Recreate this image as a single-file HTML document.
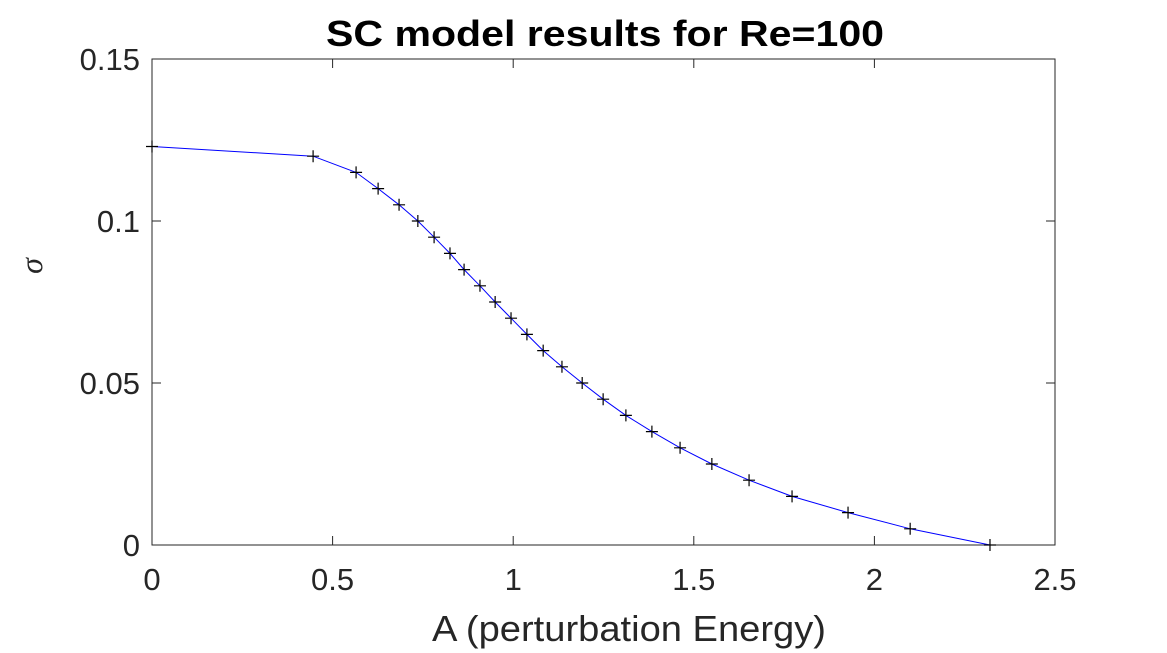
<!DOCTYPE html>
<html><head><meta charset="utf-8"><style>
html,body{margin:0;padding:0;background:#fff;}
svg{display:block;font-family:"Liberation Sans",sans-serif;}
</style></head><body>
<svg id="chart" width="1167" height="653">
<rect x="0" y="0" width="1167" height="653" fill="#fff"/>
<text x="605" y="46" text-anchor="middle" font-size="36" font-weight="bold" fill="#000" textLength="558" lengthAdjust="spacingAndGlyphs">SC model results for Re=100</text>
<g id="axes"></g>
<g id="series"></g>
<text x="629" y="641" text-anchor="middle" font-size="36" fill="#262626" textLength="394" lengthAdjust="spacingAndGlyphs">A (perturbation Energy)</text>
<text x="0" y="0" transform="translate(42,266) rotate(-90)" text-anchor="middle" font-size="32" font-style="italic" font-family="Liberation Serif,serif" fill="#262626">σ</text>
</svg>
<script>
const xValues=[0,0.446,0.565,0.626,0.684,0.736,0.781,0.825,0.864,0.908,0.950,0.994,1.038,1.083,1.135,1.191,1.249,1.312,1.384,1.462,1.550,1.653,1.772,1.927,2.099,2.320];
const yValues=[0.123,0.12,0.115,0.11,0.105,0.1,0.095,0.09,0.085,0.08,0.075,0.07,0.065,0.06,0.055,0.05,0.045,0.04,0.035,0.03,0.025,0.02,0.015,0.01,0.005,0];
const xTicks=[0,0.5,1,1.5,2,2.5];
const xTickLabels=["0","0.5","1","1.5","2","2.5"];
const yTicks=[0,0.05,0.1,0.15];
const yTickLabels=["0","0.05","0.1","0.15"];
const L=152,R=1055,T=59,B=545,xMax=2.5,yMax=0.15;
const sx=v=>L+(R-L)*v/xMax, sy=v=>B-(B-T)*v/yMax;
const NS="http://www.w3.org/2000/svg";
const ax=document.getElementById('axes'), se=document.getElementById('series');
function mk(tag,attrs,parent){const e=document.createElementNS(NS,tag);for(const k in attrs)e.setAttribute(k,attrs[k]);parent.appendChild(e);return e;}
const box=mk('rect',{x:L,y:T,width:R-L,height:B-T,fill:'none',stroke:'#262626','stroke-width':1},ax);


xTicks.forEach((v,i)=>{const x=sx(v);
 const t1=mk('line',{x1:x,x2:x,y1:B,y2:B-9,stroke:'#262626'},ax);
 
 
 const t2=mk('line',{x1:x,x2:x,y1:T,y2:T+9,stroke:'#262626'},ax);
 
 
 const tx=mk('text',{x:x,y:B+45,'text-anchor':'middle','font-size':31,fill:'#262626'},ax);tx.textContent=xTickLabels[i];
 
 
});
yTicks.forEach((v,i)=>{const y=sy(v);
 const t1=mk('line',{x1:L,x2:L+9,y1:y,y2:y,stroke:'#262626'},ax);
 
 
 const t2=mk('line',{x1:R,x2:R-9,y1:y,y2:y,stroke:'#262626'},ax);
 
 
 const tx=mk('text',{x:L-12,y:y+11,'text-anchor':'end','font-size':31,fill:'#262626'},ax);tx.textContent=yTickLabels[i];
 
 
});
const pts=xValues.map((v,i)=>sx(v)+','+sy(yValues[i])).join(' ');
const pl=mk('polyline',{points:pts,fill:'none',stroke:'#0000ff','stroke-width':1},se);


xValues.forEach((v,i)=>{const x=sx(v),y=sy(yValues[i]);
 const m=mk('path',{d:`M${x-6},${y}H${x+6}M${x},${y-6}V${y+6}`,stroke:'#000','stroke-width':1.2},se);
 
 
});
</script>
</body></html>
